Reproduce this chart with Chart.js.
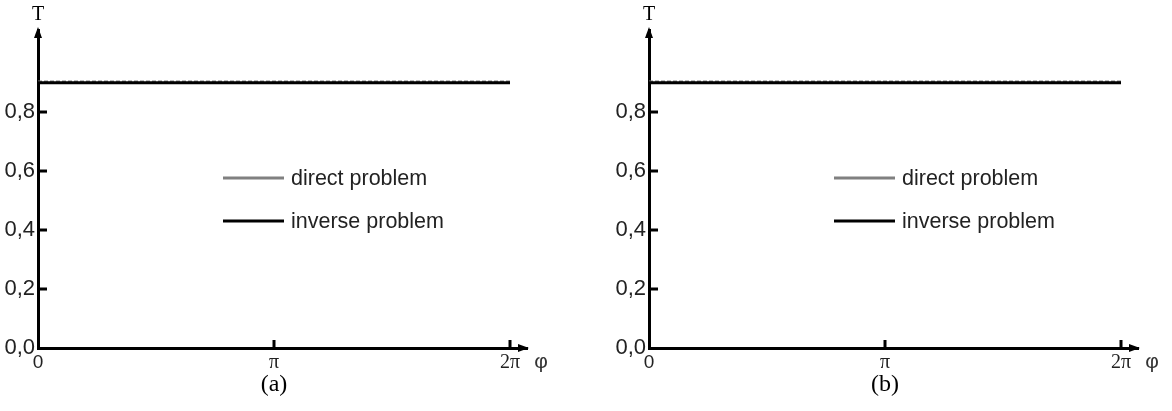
<!DOCTYPE html>
<html>
<head>
<meta charset="utf-8">
<script src="https://cdn.jsdelivr.net/npm/chart.js@4.4.1/dist/chart.umd.min.js"></script>
<style>
  html, body { margin: 0; padding: 0; background: #fff; }
  #wrap { position: relative; width: 1172px; height: 411px; }
  .panel { position: absolute; top: 0; width: 561px; height: 411px; }
</style>
</head>
<body>
<div id="wrap">
  <div class="panel" style="left:0"><canvas id="chartA"></canvas></div>
  <div class="panel" style="left:611px"><canvas id="chartB"></canvas></div>
</div>
<script>
// angle samples (rad) and transmission values
const phi = [0, Math.PI / 2, Math.PI, (3 * Math.PI) / 2, 2 * Math.PI];
const directA = [0.903, 0.903, 0.903, 0.903, 0.903];
const inverseA = [0.899, 0.899, 0.899, 0.899, 0.899];
const directB = [0.903, 0.903, 0.903, 0.903, 0.903];
const inverseB = [0.899, 0.899, 0.899, 0.899, 0.899];

const yTicks = [0, 0.2, 0.4, 0.6, 0.8];
const yTickLabels = ["0,0", "0,2", "0,4", "0,6", "0,8"];
const xTicks = [0, Math.PI, 2 * Math.PI];
const xTickLabels = ["0", "π", "2π"];

const sans = "'Liberation Sans', Arial, sans-serif";
const serif = "'Liberation Serif', 'Times New Roman', serif";

// axis arrows, inward tick marks, legend and captions
const decorations = {
  id: "decorations",
  afterDraw(chart, args, opts) {
    const ctx = chart.ctx;
    const area = chart.chartArea;
    const xs = chart.scales.x;
    const ys = chart.scales.y;
    const x0 = area.left;
    const y0 = area.bottom;
    ctx.save();
    ctx.fillStyle = "#000";
    ctx.strokeStyle = "#000";
    ctx.lineWidth = 3;

    // y ticks pointing into the plot
    yTicks.slice(1).forEach((v) => {
      const y = ys.getPixelForValue(v);
      ctx.beginPath();
      ctx.moveTo(x0, y);
      ctx.lineTo(x0 + 9, y);
      ctx.stroke();
    });
    // x ticks pointing up
    xTicks.slice(1).forEach((v) => {
      const x = xs.getPixelForValue(v);
      ctx.beginPath();
      ctx.moveTo(x, y0);
      ctx.lineTo(x, y0 - 8);
      ctx.stroke();
    });

    // arrow heads
    ctx.beginPath();
    ctx.moveTo(x0, area.top - 3);
    ctx.lineTo(x0 - 4, area.top + 8);
    ctx.lineTo(x0 + 4, area.top + 8);
    ctx.closePath();
    ctx.fill();
    ctx.beginPath();
    ctx.moveTo(area.right + 2, y0);
    ctx.lineTo(area.right - 9, y0 - 4);
    ctx.lineTo(area.right - 9, y0 + 4);
    ctx.closePath();
    ctx.fill();

    // axis names
    ctx.font = "20px " + serif;
    ctx.textAlign = "center";
    ctx.textBaseline = "middle";
    ctx.fillText("T", x0, 15);
    ctx.font = "21px " + sans;
    ctx.fillStyle = "#333";
    ctx.fillText("φ", area.right + 14, y0 + 14);

    // caption
    ctx.fillStyle = "#000";
    ctx.font = "24px " + serif;
    ctx.fillText(opts.caption, xs.getPixelForValue(Math.PI), 385);

    // legend
    ctx.textAlign = "left";
    ctx.font = "21.5px " + sans;
    const rows = [178, 221];
    chart.data.datasets.forEach((ds, i) => {
      const y = rows[i];
      ctx.strokeStyle = ds.borderColor;
      ctx.lineWidth = 3;
      ctx.beginPath();
      ctx.moveTo(223, y);
      ctx.lineTo(284, y);
      ctx.stroke();
      ctx.fillStyle = "#222";
      ctx.fillText(ds.label, 291, y + 1);
    });
    ctx.restore();
  },
};

function makePanel(id, direct, inverse, caption) {
  const ctx = document.getElementById(id).getContext("2d");
  return new Chart(ctx, {
    type: "line",
    data: {
      datasets: [
        {
          label: "direct problem",
          data: phi.map((p, i) => ({ x: p, y: direct[i] })),
          borderColor: "#808080",
          borderWidth: 2,
          borderDash: [4, 2],
          pointRadius: 0,
          order: 2,
        },
        {
          label: "inverse problem",
          data: phi.map((p, i) => ({ x: p, y: inverse[i] })),
          borderColor: "#000000",
          borderWidth: 3,
          pointRadius: 0,
          order: 1,
        },
      ],
    },
    options: {
      responsive: true,
      maintainAspectRatio: false,
      animation: false,
      layout: { padding: { top: 30, right: 34, left: 0, bottom: 0 } },
      plugins: {
        legend: { display: false },
        tooltip: { enabled: false },
        decorations: { caption: caption },
      },
      scales: {
        x: {
          type: "linear",
          min: 0,
          max: 2 * Math.PI * 1.036,
          afterBuildTicks: (scale) => {
            scale.ticks = xTicks.map((v) => ({ value: v }));
          },
          afterFit: (scale) => {
            scale.height = 63;
          },
          ticks: {
            padding: 3,
            maxRotation: 0,
            autoSkip: false,
            color: "#222",
            font: (c) =>
              c.index === 0
                ? { size: 19, family: sans }
                : { size: 20, family: serif },
            callback: (v, i) => xTickLabels[i],
          },
          grid: { display: false, drawTicks: false },
          border: { display: true, color: "#000", width: 3 },
        },
        y: {
          min: 0,
          max: 1.078,
          afterBuildTicks: (scale) => {
            scale.ticks = yTicks.map((v) => ({ value: v }));
          },
          afterFit: (scale) => {
            scale.width = 38;
          },
          ticks: {
            padding: 3,
            autoSkip: false,
            color: "#222",
            font: { size: 22, family: sans },
            callback: (v, i) => yTickLabels[i],
          },
          grid: { display: false, drawTicks: false },
          border: { display: true, color: "#000", width: 3 },
        },
      },
    },
    plugins: [decorations],
  });
}

makePanel("chartA", directA, inverseA, "(a)");
makePanel("chartB", directB, inverseB, "(b)");
</script>
</body>
</html>
